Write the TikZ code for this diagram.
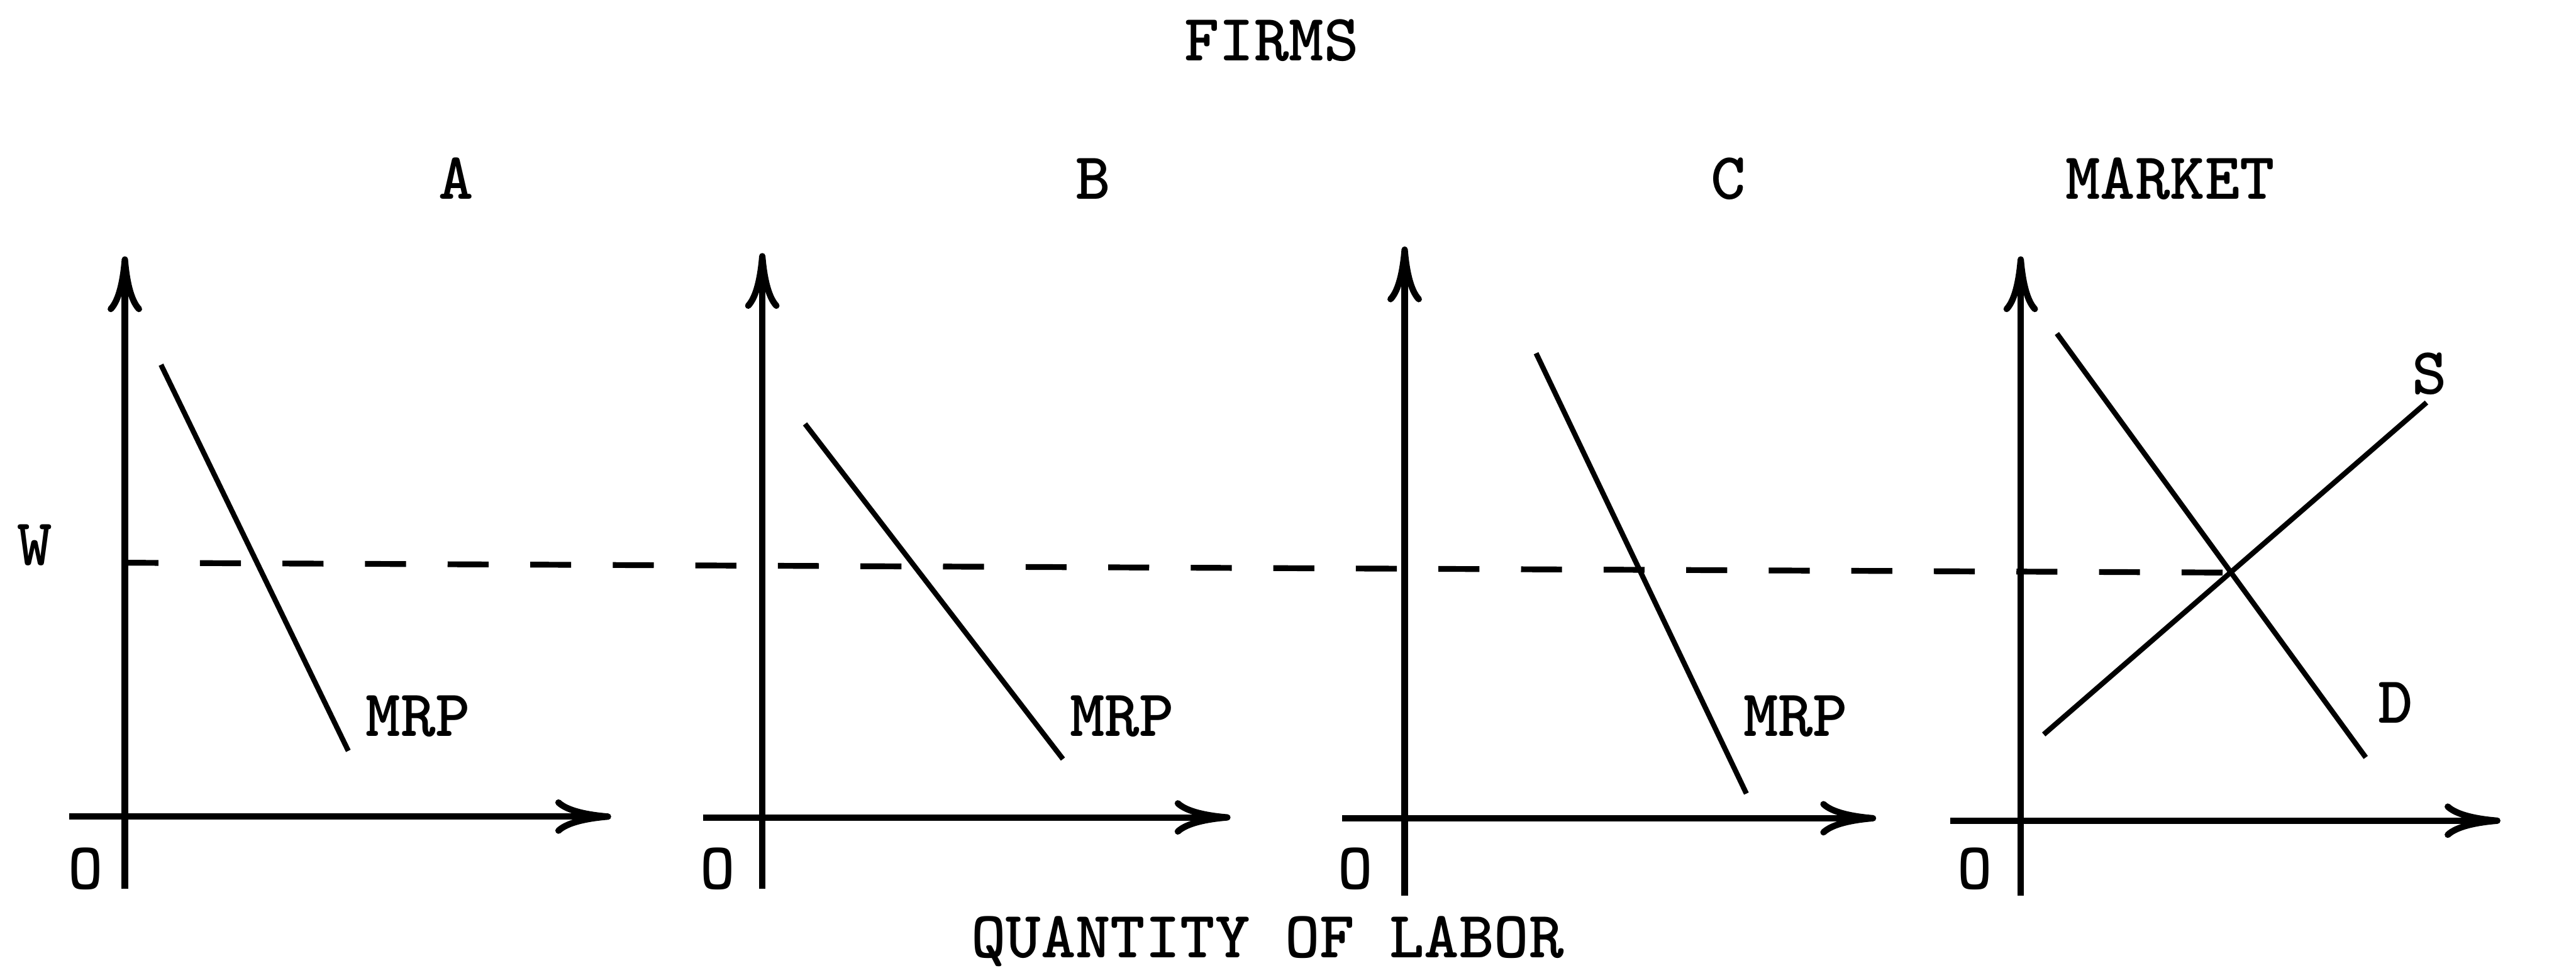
\documentclass[tikz,border=0pt]{standalone}
\usepackage{fontspec}
\usetikzlibrary{arrows.meta}
\begin{document}
\begin{tikzpicture}[
    eje/.style={line width=1.1pt,-{To[length=3.4mm,width=2.1mm]}},
    curva/.style={line width=0.9pt},
    guia/.style={line width=1pt,dash pattern=on 7.1pt off 7.2pt,dash phase=1.3pt},
    texto/.style={anchor=base,inner sep=0pt,font=\fontsize{11.5}{13}\selectfont\ttfamily\bfseries}
  ]
    \useasboundingbox (0,0) rectangle (15.68,5.89);

    % Títulos generales
    \node[texto] (firms) at (7.74,5.52) {FIRMS};
    \node[texto] (qlabor) at (7.715,0.06) {QUANTITY OF LABOR};

    % Salario de equilibrio (línea discontinua)
    \coordinate (eq) at (13.58,2.405);
    \node[texto] (w) at (0.21,2.45) {W};
    \draw[guia] (0.76,2.465) -- (eq);

    % Empresa A
    \draw[eje] (0.76,0.48) -- (0.76,4.33);
    \draw[eje] (0.42,0.92) -- (3.72,0.92);
    \draw[curva] (0.98,3.67) -- (2.12,1.32);
    \node[texto] (mrpA) at (2.545,1.41) {MRP};
    \node[texto] (oA) at (0.52,0.48) {O};
    \node[texto] (tA) at (2.775,4.68) {A};

    % Empresa B
    \draw[eje] (4.64,0.48) -- (4.64,4.35);
    \draw[eje] (4.28,0.915) -- (7.49,0.915);
    \draw[curva] (4.90,3.31) -- (6.47,1.27);
    \node[texto] (mrpB) at (6.83,1.41) {MRP};
    \node[texto] (oB) at (4.37,0.48) {O};
    \node[texto] (tB) at (6.655,4.68) {B};

    % Empresa C
    \draw[eje] (8.55,0.44) -- (8.55,4.39);
    \draw[eje] (8.17,0.91) -- (11.42,0.91);
    \draw[curva] (9.35,3.74) -- (10.63,1.06);
    \node[texto] (mrpC) at (10.93,1.41) {MRP};
    \node[texto] (oC) at (8.25,0.48) {O};
    \node[texto] (tC) at (10.52,4.68) {C};

    % Mercado: oferta y demanda
    \draw[eje] (12.30,0.44) -- (12.30,4.33);
    \draw[eje] (11.87,0.895) -- (15.22,0.895);
    \draw[curva] (12.52,3.86) -- (14.40,1.28);
    \draw[curva] (12.44,1.42) -- (14.77,3.44);
    \node[texto] (s) at (14.79,3.49) {S};
    \node[texto] (d) at (14.58,1.49) {D};
    \node[texto] (oM) at (12.02,0.48) {O};
    \node[texto] (tM) at (13.21,4.68) {MARKET};
\end{tikzpicture}
\end{document}
